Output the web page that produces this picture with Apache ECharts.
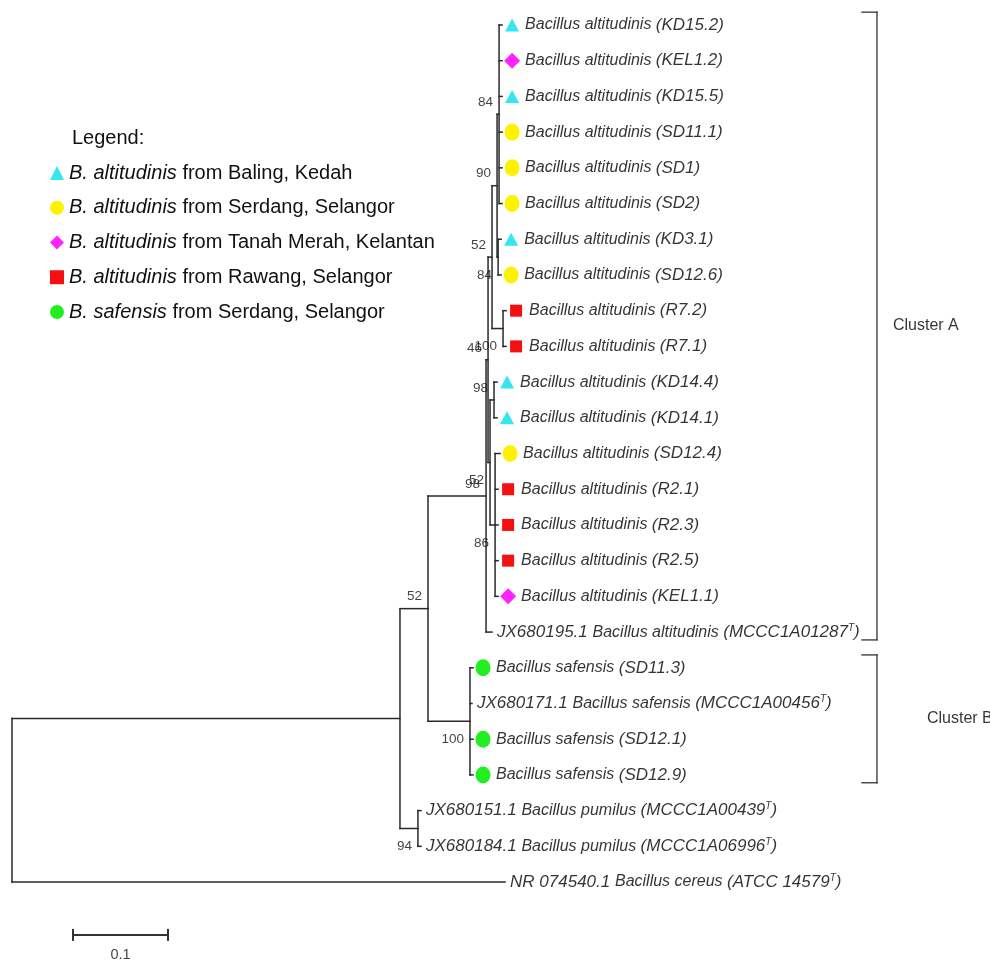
<!DOCTYPE html>
<html><head><meta charset="utf-8">
<script src="https://cdn.jsdelivr.net/npm/echarts@6/dist/echarts.min.js"></script>
<style>html,body{margin:0;padding:0;background:#fff}#c{width:990px;height:960px}</style>
</head><body><div id="c"></div>
<script>
// ---------- DATA ----------
// Internal nodes of the tree: id, parent, branch length (substitutions/site), bootstrap
const nodeIds       = ['root','I','P','N52','S','A','D','E','F','G','R7','K','L','KD14','M'];
const nodeParents   = [null,'root','I','I','N52','N52','A','D','D','E','E','G','G','F','F'];
const nodeLengths   = [0,0.4084,0.0189,0.0295,0.0442,0.0611,0.0021,0.0042,0.0021,0.0053,0.0116,0.0021,0.0011,0.0042,0.0053];
const nodeBootstrap = [null,null,94,52,100,98,46,52,52,90,100,84,84,98,86];

// Leaves in display order (top to bottom)
const leafAccessions = ['','','','','','','','','','','','','','','','','','JX680195.1','','JX680171.1','','','JX680151.1','JX680184.1','NR 074540.1'];
const leafSpecies = [
  'Bacillus altitudinis','Bacillus altitudinis','Bacillus altitudinis','Bacillus altitudinis','Bacillus altitudinis',
  'Bacillus altitudinis','Bacillus altitudinis','Bacillus altitudinis','Bacillus altitudinis','Bacillus altitudinis',
  'Bacillus altitudinis','Bacillus altitudinis','Bacillus altitudinis','Bacillus altitudinis','Bacillus altitudinis',
  'Bacillus altitudinis','Bacillus altitudinis','Bacillus altitudinis','Bacillus safensis','Bacillus safensis',
  'Bacillus safensis','Bacillus safensis','Bacillus pumilus','Bacillus pumilus','Bacillus cereus'
];
const leafStrains = ['KD15.2','KEL1.2','KD15.5','SD11.1','SD1','SD2','KD3.1','SD12.6','R7.2','R7.1','KD14.4','KD14.1',
                     'SD12.4','R2.1','R2.3','R2.5','KEL1.1','MCCC1A01287','SD11.3','MCCC1A00456','SD12.1','SD12.9',
                     'MCCC1A00439','MCCC1A06996','ATCC 14579'];
const leafTypeStrain = [0,0,0,0,0,0,0,0,0,0,0,0,0,0,0,0,0,1,0,1,0,0,1,1,1];
const leafParents = ['K','K','K','K','K','K','L','L','R7','R7','KD14','KD14','M','M','M','M','M','A','S','S','S','S','P','P','root'];
const leafLengths = [0.0032,0.0032,0.0032,0.0032,0.0032,0.0032,0.0032,0.0032,0.0032,0.0032,0.0032,0.0032,
                     0.0053,0.0032,0.0032,0.0032,0.0032,0.0063,0.0032,0.0021,0.0032,0.0032,0.0032,0.0032,0.519];
const leafGroups  = [0,2,0,1,1,1,0,1,3,3,0,0,1,3,3,3,2,-1,4,-1,4,4,-1,-1,-1];

// Isolate groups (legend)
const groupSpecies = ['B. altitudinis','B. altitudinis','B. altitudinis','B. altitudinis','B. safensis'];
const groupOrigins = ['from Baling, Kedah','from Serdang, Selangor','from Tanah Merah, Kelantan','from Rawang, Selangor','from Serdang, Selangor'];

// Clusters
const clusterNames     = ['Cluster A','Cluster B'];
const clusterFirstLeaf = [0, 18];
const clusterLastLeaf  = [17, 21];

// Scale bar
const scaleLength = 0.1;
const scaleLabel  = '0.1';

// ---------- STYLE / LAYOUT ----------
const FONT = 'Liberation Sans, Arial, sans-serif';
const groupSymbols = ['triangle','circle','diamond','rect','circle'];
const groupSizes   = [[14,13],[15,17],[16,16],[12,12],[15,17]];
const groupColors  = ['#33E6F0','#FFF200','#FF22FF','#F41010','#22EE22'];
const labelSide    = {P:'below',N52:'above',S:'below',A:'above',D:'above',E:'above',F:'below',G:'above',R7:'below',K:'above',L:'below',KD14:'above',M:'below'};
const bracketX = 0.9105, bracketTick = 0.0158, bracketPadTop = 0.36, bracketPadBottom = 0.22;
const clusterLabelGap = [16, 50];
const scaleStart = 0.0642, scaleY = 25.48;
const LINE = '#2a2a2a';

// ---------- TREE LAYOUT ----------
const byId = {};
nodeIds.forEach((id, i) => { byId[id] = {id, parent: nodeParents[i], len: nodeLengths[i], boot: nodeBootstrap[i], children: [], leaf: false}; });
leafSpecies.forEach((s, i) => { byId['leaf' + i] = {id: 'leaf' + i, parent: leafParents[i], len: leafLengths[i], children: [], leaf: true, idx: i}; });
Object.values(byId).forEach(n => { if (n.parent) byId[n.parent].children.push(n); });
function layout(n, d) {
  n.x = d + n.len;
  n.children.forEach(c => layout(c, n.x));
  if (n.leaf) n.y = n.idx;
  else {
    const ys = n.children.map(c => c.y);
    n.minY = Math.min(...ys); n.maxY = Math.max(...ys);
    n.y = (n.minY + n.maxY) / 2;
  }
}
layout(byId.root, 0);

const treeSegs = [];
Object.values(byId).forEach(n => {
  if (n.parent) { const p = byId[n.parent]; treeSegs.push([p.x, n.y, n.x, n.y]); }
  if (!n.leaf) treeSegs.push([n.x, n.minY, n.x, n.maxY]);
});

const bracketSegs = [];
clusterNames.forEach((nm, i) => {
  const t = clusterFirstLeaf[i] - bracketPadTop, b = clusterLastLeaf[i] + bracketPadBottom;
  bracketSegs.push([bracketX, t, bracketX, b]);
  bracketSegs.push([bracketX - bracketTick, t, bracketX, t]);
  bracketSegs.push([bracketX - bracketTick, b, bracketX, b]);
});

const scaleSegs = [
  [scaleStart, scaleY, scaleStart + scaleLength, scaleY],
  [scaleStart, scaleY - 0.14, scaleStart, scaleY + 0.14],
  [scaleStart + scaleLength, scaleY - 0.14, scaleStart + scaleLength, scaleY + 0.14]
];

function segRenderer(color, width) {
  return function (params, api) {
    const a = api.coord([api.value(0), api.value(1)]);
    const b = api.coord([api.value(2), api.value(3)]);
    return {type: 'line', shape: {x1: a[0], y1: a[1], x2: b[0], y2: b[1]},
            style: {stroke: color, lineWidth: width, lineCap: 'square'}};
  };
}

function leafRich(i) {
  let s = '';
  if (leafAccessions[i]) s += '{c|' + leafAccessions[i] + ' }';
  s += '{a|' + leafSpecies[i] + ' }';
  s += '{c|(' + leafStrains[i] + '}';
  if (leafTypeStrain[i]) s += '{s|T}';
  s += '{c|)}';
  return s;
}

const leaves = leafSpecies.map((l, i) => byId['leaf' + i]);
const groupNames = groupSpecies.map((s, i) => s + ' ' + groupOrigins[i]);

const markerSeries = groupNames.map((nm, g) => ({
  type: 'scatter', name: nm, symbol: groupSymbols[g], symbolSize: groupSizes[g], symbolOffset: [10, 0],
  itemStyle: {color: groupColors[g], opacity: 1}, z: 5, silent: true,
  data: leaves.filter(n => leafGroups[n.idx] === g).map(n => [n.x, n.y])
}));

const option = {
  animation: false,
  backgroundColor: '#fff',
  title: {text: 'Legend:', left: 67, top: 123, textStyle: {fontFamily: FONT, fontSize: 20, fontWeight: 'normal', color: '#111'}},
  legend: {
    orient: 'vertical', left: 45, top: 158, itemWidth: 14, itemHeight: 14, itemGap: 14.75, selectedMode: false,
    data: groupNames,
    formatter: name => { const i = groupNames.indexOf(name); return '{i|' + groupSpecies[i] + '} ' + groupOrigins[i]; },
    textStyle: {fontFamily: FONT, fontSize: 20, color: '#111', rich: {i: {fontFamily: FONT, fontSize: 20, fontStyle: 'italic', color: '#111'}}}
  },
  grid: {left: 0, right: 0, top: 0, bottom: 0},
  xAxis: {type: 'value', min: -0.012632, max: 1.029474, show: false},
  yAxis: {type: 'value', min: -0.7001, max: 26.183, inverse: true, show: false},
  series: [
    {type: 'custom', name: 'tree', renderItem: segRenderer(LINE, 1.5), data: treeSegs, silent: true, z: 2},
    {type: 'custom', name: 'brackets', renderItem: segRenderer('#333', 1.3), data: bracketSegs, silent: true, z: 2},
    {type: 'custom', name: 'scale', renderItem: segRenderer('#333', 2), data: scaleSegs, silent: true, z: 2},
    ...markerSeries,
    {
      type: 'scatter', name: 'leafLabels', symbolSize: 0, silent: true, z: 6,
      itemStyle: {color: 'transparent'},
      data: leaves.map(n => ({
        value: [n.x, n.y],
        label: {show: true, position: 'right', distance: leafGroups[n.idx] >= 0 ? 23 : 5, formatter: leafRich(n.idx)}
      })),
      label: {show: true, rich: {
        a: {fontFamily: FONT, fontSize: 16, fontStyle: 'italic', color: '#000', lineHeight: 18},
        c: {fontFamily: FONT, fontSize: 17, fontStyle: 'italic', color: '#000', lineHeight: 18},
        s: {fontFamily: FONT, fontSize: 10, fontStyle: 'italic', color: '#000', verticalAlign: 'top', lineHeight: 10}
      }}
    },
    {
      type: 'scatter', name: 'bootstrap', symbolSize: 0, silent: true, z: 6,
      itemStyle: {color: 'transparent'},
      data: Object.values(byId).filter(n => !n.leaf && n.boot != null).map(n => ({
        value: [n.x, n.y],
        label: {show: true, position: 'left', distance: 6, offset: [0, labelSide[n.id] === 'above' ? -12 : 18], formatter: String(n.boot)}
      })),
      label: {show: true, fontFamily: FONT, fontSize: 13.5, color: '#111'}
    },
    {
      type: 'scatter', name: 'clusters', symbolSize: 0, silent: true, z: 6,
      itemStyle: {color: 'transparent'},
      data: clusterNames.map((nm, i) => ({
        value: [bracketX, (clusterFirstLeaf[i] - bracketPadTop + clusterLastLeaf[i] + bracketPadBottom) / 2],
        label: {show: true, position: 'right', distance: clusterLabelGap[i], formatter: nm}
      })),
      label: {show: true, fontFamily: FONT, fontSize: 16, color: '#000'}
    },
    {
      type: 'scatter', name: 'scaleLabel', symbolSize: 0, silent: true, z: 6,
      itemStyle: {color: 'transparent'},
      data: [{value: [scaleStart + scaleLength / 2, scaleY], label: {show: true, position: 'bottom', distance: 13, formatter: scaleLabel}}],
      label: {show: true, fontFamily: FONT, fontSize: 14.5, color: '#111'}
    }
  ]
};
const chart = echarts.init(document.getElementById('c'), null, {renderer: 'canvas'});
chart.setOption(option);
</script>
</body></html>
